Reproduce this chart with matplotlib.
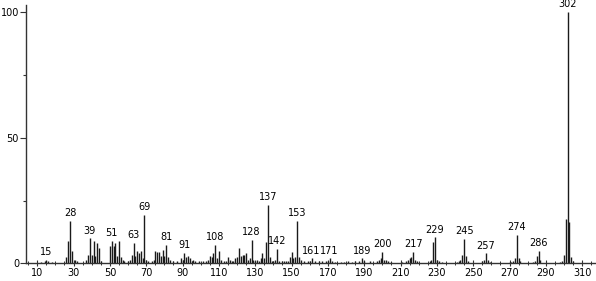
import numpy as np
import matplotlib
matplotlib.use("Agg")
import matplotlib.pyplot as plt
from matplotlib.ticker import MultipleLocator, FixedLocator

# mass spectrum peaks (m/z, relative intensity)
mz = [12, 14, 15, 16, 18, 26, 27, 28, 29, 31, 32, 37, 38, 39, 40, 41, 42, 43, 44, 45,
      50, 51, 52, 53, 54, 55, 56, 57, 58, 60, 61, 62, 63, 64, 65, 66, 67, 68, 69, 70,
      71, 73, 74, 75, 76, 77, 78, 79, 80, 81, 82, 83, 85, 87, 89, 90, 91, 92, 93, 94,
      95, 96, 97, 99, 101, 103, 104, 105, 106, 107, 108, 109, 110, 111, 113, 114, 115,
      116, 117, 118, 119, 120, 121, 122, 123, 124, 125, 126, 127, 128, 129, 130, 131,
      132, 133, 134, 135, 136, 137, 138, 139, 140, 141, 142, 143, 145, 146, 147, 148,
      149, 150, 151, 152, 153, 154, 155, 157, 159, 160, 161, 163, 165, 167, 169, 170,
      171, 172, 174, 177, 179, 181, 183, 185, 187, 189, 190, 193, 197, 198, 199, 200,
      201, 202, 203, 205, 211, 213, 214, 215, 216, 217, 218, 219, 226, 227, 228, 229,
      230, 231, 233, 241, 242, 243, 244, 245, 246, 247, 255, 256, 257, 258, 259, 270,
      271, 272, 273, 274, 275, 276, 283, 284, 285, 286, 287, 298, 299, 300, 301, 302,
      303, 304, 305]
intensity = [0.5, 0.8, 1.5, 0.8, 0.6, 2.5, 9, 17, 5, 1.5, 0.8, 1.5, 3.5, 10, 3.5, 9, 3, 8, 6, 1,
             7, 9, 7, 8, 3, 9, 2.5, 1.5, 1, 1, 1.5, 3.5, 8.3, 3, 5, 4, 5, 2, 19.3, 1.5,
             1, 1, 1.5, 5, 4.5, 4.5, 3, 5.5, 3, 7.4, 2.5, 1.5, 1, 1, 2, 1.5, 4.3, 2.5, 3, 2,
             1, 1.5, 1, 0.8, 1, 1, 1.5, 3, 2.5, 4, 7.4, 2, 5, 1.5, 1, 1, 2.5,
             1.5, 1, 1, 2, 2.5, 6, 3, 3.5, 3.5, 4, 1.5, 2, 9.3, 1.5, 1, 1.5,
             1, 2, 4, 2, 8.7, 23.3, 2.5, 1, 1, 1.5, 5.8, 1, 1, 1, 1, 1,
             2.5, 4.7, 2, 2.5, 16.9, 2.5, 1.5, 0.8, 1, 1, 2, 1, 0.8, 0.8, 1, 1,
             2, 1, 0.5, 0.5, 0.5, 0.8, 0.5, 0.8, 1, 2, 1, 0.8, 1, 1.5, 2, 4.7,
             1.5, 1.5, 1, 0.5, 0.5, 0.8, 1.5, 2, 2.5, 4.7, 1.5, 0.8, 0.8, 1.5, 8.7, 10.4,
             1.5, 1, 0.5, 0.5, 0.8, 1.5, 3.4, 9.7, 3, 1, 0.8, 1.5, 4, 1.5, 0.5, 0.5,
             0.5, 1, 2, 11.3, 2, 1, 0.5, 0.8, 3, 5.1, 1.5, 0.5, 1, 3.4, 17.7, 100,
             16.6, 2.7, 0.8]

labelled = [15, 28, 39, 51, 63, 69, 81, 91, 108, 128, 137, 142, 153, 161, 171, 189,
            200, 217, 229, 245, 257, 274, 286, 302]

fig = plt.figure(figsize=(5.96, 2.81), dpi=100)
ax = fig.add_axes([0.0436, 0.0623, 0.9564, 0.92])

ax.vlines(mz, 0, intensity, colors="#1a1a1a", linewidth=1.0)

lookup = dict(zip(mz, intensity))
for m in labelled:
    ax.annotate(str(m), (m, lookup[m]), xytext=(0, 2), textcoords="offset points",
                ha="center", va="bottom", fontsize=7, color="black",
                annotation_clip=False)

ax.set_xlim(3.8, 317.6)
ax.set_ylim(0, 102.8)

ax.spines["top"].set_visible(False)
ax.spines["right"].set_visible(False)
for s in ("left", "bottom"):
    ax.spines[s].set_color("#333333")
    ax.spines[s].set_linewidth(1.0)

ax.xaxis.set_major_locator(FixedLocator(np.arange(10, 320, 20)))
ax.xaxis.set_minor_locator(MultipleLocator(5))
ax.yaxis.set_major_locator(FixedLocator([0, 50, 100]))
ax.yaxis.set_minor_locator(FixedLocator([25, 75]))

ax.tick_params(axis="x", which="major", length=4, width=0.8, direction="inout",
               labelsize=7, pad=1, color="#333333")
ax.tick_params(axis="x", which="minor", length=3, width=0.7, direction="inout",
               color="#333333")
ax.tick_params(axis="y", which="major", length=4, width=0.8, direction="out",
               labelsize=7, pad=1, color="#333333")
ax.tick_params(axis="y", which="minor", length=2, width=0.8, direction="out",
               color="#333333")

fig.savefig("out.png", dpi=100)
